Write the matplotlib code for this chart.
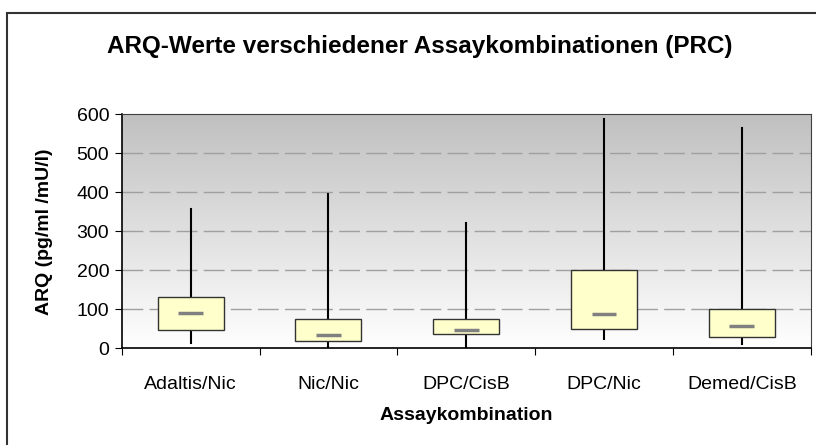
import numpy as np
import matplotlib.pyplot as plt
from matplotlib.colors import LinearSegmentedColormap
from matplotlib.patches import Rectangle

plt.rcParams['font.family'] = ['Liberation Sans', 'DejaVu Sans']

categories = ['Adaltis/Nic', 'Nic/Nic', 'DPC/CisB', 'DPC/Nic', 'Demed/CisB']
whisker_low = [14, 2, 4, 24, 10]
box_low = [47, 20, 36, 50, 28]
medians = [91, 34, 48, 87, 57]
box_high = [132, 76, 76, 202, 102]
whisker_high = [357, 396, 321, 587, 566]

fig = plt.figure(figsize=(8.16, 4.45), dpi=100)
# outer chart frame
fig.patches.append(Rectangle((7 / 816, -0.05), 1.0, 1 - 13 / 445 + 0.05, transform=fig.transFigure,
                             fill=False, edgecolor='#333333', linewidth=1.5, clip_on=False))

ax = fig.add_axes([121.7 / 816, 1 - 348.3 / 445, 689 / 816, 234 / 445])
n = len(categories)
x = np.arange(n)

# gray to white gradient background
cmap = LinearSegmentedColormap.from_list('bg', ['#ffffff', '#c0c0c0'])
grad = np.linspace(0, 1, 256).reshape(-1, 1)
ax.imshow(grad, extent=[-0.5, n - 0.5, 0, 600], origin='lower', aspect='auto', cmap=cmap, zorder=0)

for yv in range(100, 600, 100):
    ax.axhline(yv, color='#a0a0a0', lw=1, dashes=(15, 4.5), zorder=1)

w = 0.48
for i in range(n):
    ax.plot([x[i], x[i]], [whisker_low[i], whisker_high[i]], color='black', lw=1.5, zorder=2)
    ax.add_patch(Rectangle((x[i] - w / 2, box_low[i]), w, box_high[i] - box_low[i],
                           facecolor='#ffffcc', edgecolor='#333333', lw=1, zorder=3))
    ax.plot([x[i] - 0.09, x[i] + 0.09], [medians[i], medians[i]], color='#808080', lw=2.5,
            solid_capstyle='butt', zorder=4)

ax.set_xlim(-0.5, n - 0.5)
ax.set_ylim(0, 600)
ax.set_yticks(range(0, 700, 100))
ax.set_xticks(np.arange(-0.5, n, 1.0))
ax.set_xticklabels([])
ax.set_xticks(x, minor=True)
ax.set_xticklabels(categories, minor=True, fontsize=14)
ax.tick_params(axis='x', which='minor', length=0, pad=20)
ax.tick_params(axis='x', which='major', length=5, direction='out')
ax.tick_params(axis='y', labelsize=14, length=5, pad=4)
for s in ['top', 'right']:
    ax.spines[s].set_color('#404040')
ax.spines['left'].set_linewidth(1.2)
ax.spines['bottom'].set_linewidth(1.2)

ax.set_ylabel('ARQ (pg/ml /mU/l)', fontsize=14, fontweight='bold')
ax.yaxis.set_label_coords(-0.1, 0.5)
ax.set_xlabel('Assaykombination', fontsize=14, fontweight='bold', labelpad=10)
fig.text(0.514, 1 - 46 / 445, 'ARQ-Werte verschiedener Assaykombinationen (PRC)',
         ha='center', va='center', fontsize=17.5, fontweight='bold')

fig.savefig('out.png', dpi=100)
